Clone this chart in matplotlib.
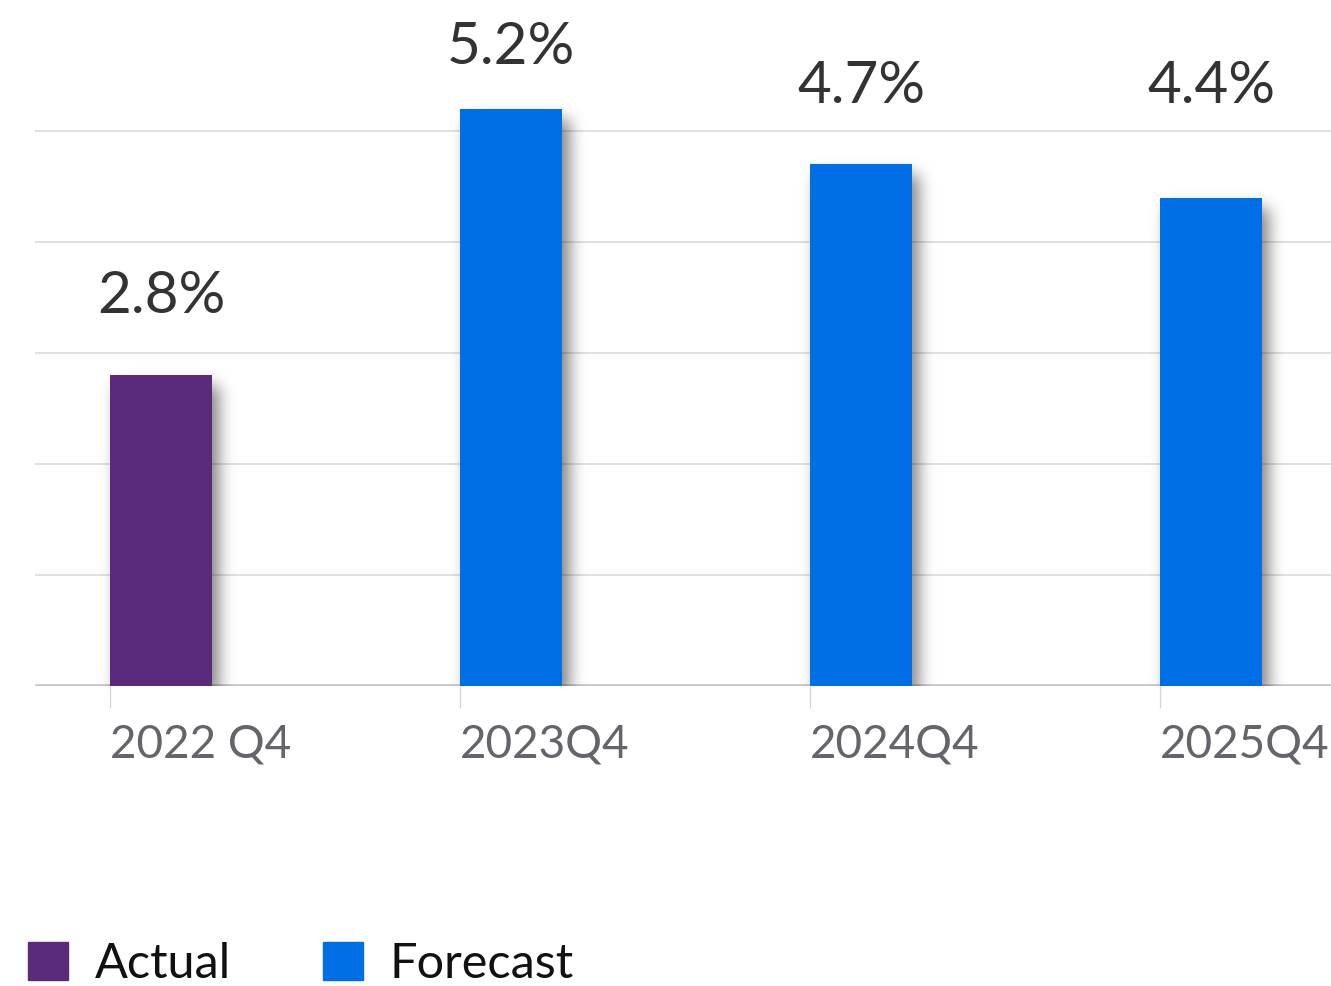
import math
import numpy as np
import matplotlib
matplotlib.use('Agg')
import matplotlib.pyplot as plt
from matplotlib.patches import Patch

periods = ['2022 Q4', '2023Q4', '2024Q4', '2025Q4']
rates = [2.8, 5.2, 4.7, 4.4]
kinds = ['Actual', 'Forecast', 'Forecast', 'Forecast']

COLORS = {'Actual': '#5a2a7c', 'Forecast': '#006ee5'}
BAR_W = 0.2914
# how far each value label sits above its bar, in pixels
LABEL_LIFT = [62, 45, 61, 95]

plt.rcParams['font.family'] = ['Lato', 'DejaVu Sans']

_erf = np.vectorize(math.erf)


def bar_shadow(ax, x0, x1, top, dx=7, dy=10, sigma=8.0, strength=0.5):
    '''Soft drop shadow behind a bar, built in pixel space.'''
    tr = ax.transData
    px0, py0 = tr.transform((x0, 0))
    px1, py1 = tr.transform((x1, top))
    sx0, sx1 = px0 + dx, px1 + dx
    sy0, sy1 = py0 - dy, py1 - dy
    pad = 4 * sigma
    gx = np.arange(sx0 - pad, sx1 + pad, 1.0)
    gy = np.arange(sy0 - pad, sy1 + pad, 1.0)
    k = math.sqrt(2) * sigma
    ax_ = 0.5 * (_erf((gx - sx0) / k) - _erf((gx - sx1) / k))
    ay_ = 0.5 * (_erf((gy - sy0) / k) - _erf((gy - sy1) / k))
    a = strength * np.outer(ay_, ax_)
    img = np.zeros(a.shape + (4,))
    img[..., 3] = a
    inv = tr.inverted()
    (ex0, ey0) = inv.transform((gx[0], gy[0]))
    (ex1, ey1) = inv.transform((gx[-1], gy[-1]))
    ax.imshow(img, extent=(ex0, ex1, ey0, ey1), origin='lower',
              aspect='auto', interpolation='bilinear', zorder=2.5)


fig = plt.figure(figsize=(13.31, 9.86), dpi=100)
ax = fig.add_axes([35 / 1331, 300 / 986, 1 - 35 / 1331, 686 / 986])
xlim = (-0.2143, 3.4886)
ylim = (0, 686 / 111)
ax.set_xlim(*xlim)
ax.set_ylim(*ylim)

x = np.arange(len(periods))
for i, (v, kind) in enumerate(zip(rates, kinds)):
    bar_shadow(ax, x[i], x[i] + BAR_W, v)
ax.bar(x, rates, width=BAR_W, align='edge',
       color=[COLORS[k] for k in kinds], zorder=3)
ax.set_xlim(*xlim)
ax.set_ylim(*ylim)

for i, v in enumerate(rates):
    ax.annotate(f'{v}%', xy=(x[i] + BAR_W / 2, v),
                xytext=(0, LABEL_LIFT[i] * 0.72), textcoords='offset points',
                ha='center', va='baseline', fontsize=42, color='#333333',
                zorder=4)

# grid and baseline
ax.set_yticks([1, 2, 3, 4, 5])
ax.yaxis.grid(True, color='#dadada', linewidth=1.2)
ax.set_axisbelow(True)
ax.tick_params(axis='y', left=False, labelleft=False)
ax.axhline(0, color='#c6c6c6', linewidth=2.6, zorder=2)
for s in ax.spines.values():
    s.set_visible(False)

ax.set_xticks(x)
ax.set_xticklabels(periods, ha='left')
ax.tick_params(axis='x', length=16, width=0.9, color='#d4d4d4', pad=11,
               labelsize=33, labelcolor='#66636a')

handles = [Patch(color=COLORS['Actual'], label='Actual'),
           Patch(color=COLORS['Forecast'], label='Forecast')]
fig.legend(handles=handles, loc='lower left', bbox_to_anchor=(0.021, 0.0),
           ncol=2, frameon=False, fontsize=35, handlelength=0.82,
           handleheight=0.82, handletextpad=0.55, columnspacing=1.9,
           borderpad=0.0, borderaxespad=0.0, labelcolor='#111111')

fig.savefig('out.png', dpi=100)
